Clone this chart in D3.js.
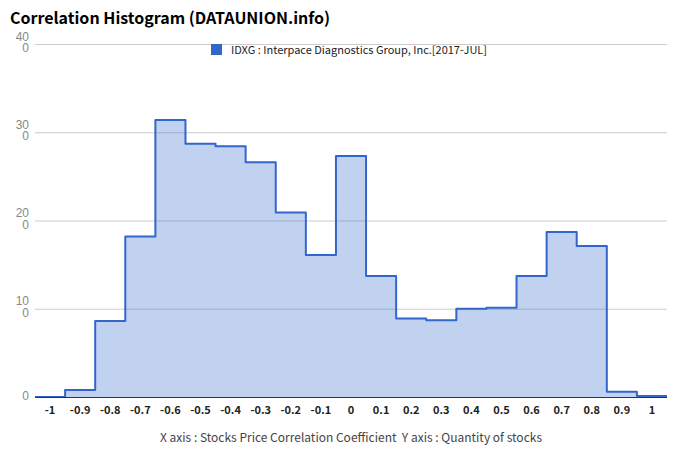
<!DOCTYPE html>
<html>
<head>
<meta charset="utf-8">
<script src="https://cdn.jsdelivr.net/npm/d3@7"></script>
<style>
  body { margin: 0; background: #fff; }
  text { font-family: "Noto Sans CJK KR", "Noto Sans", sans-serif; }
  .ylab {
    font-family: "Liberation Sans", sans-serif;
    font-size: 12px;
    line-height: 11.5px;
    color: #888;
    text-align: right;
    word-break: break-all;
    width: 16px;
  }
</style>
</head>
<body>
<div id="chart"></div>
<script>
// bin centres and stock counts
var bins = [-1, -0.9, -0.8, -0.7, -0.6, -0.5, -0.4, -0.3, -0.2, -0.1, 0,
            0.1, 0.2, 0.3, 0.4, 0.5, 0.6, 0.7, 0.8, 0.9, 1];
var counts = [0, 8, 86, 182, 314, 287, 284, 266, 209, 161, 273,
              137, 89, 87, 100, 101, 137, 187, 171, 6, 1];
var yTicks = [0, 100, 200, 300, 400];
var binWidth = 0.1;

var W = 680, H = 462;
var margin = {top: 44, right: 13, bottom: 65, left: 35};

var x = d3.scaleLinear().domain([-1.05, 1.05]).range([margin.left, W - margin.right]);
var y = d3.scaleLinear().domain([0, 400]).range([H - margin.bottom, margin.top]);

var svg = d3.select("#chart").append("svg")
  .attr("width", W)
  .attr("height", H);

// title
svg.append("text")
  .attr("x", 10).attr("y", 24)
  .attr("font-size", 16).attr("font-weight", "bold")
  .attr("fill", "#000")
  .text("Correlation Histogram (DATAUNION.info)");

// grid
svg.append("g").selectAll("line")
  .data(yTicks.filter(function(d){ return d > 0; }))
  .enter().append("line")
  .attr("x1", x.range()[0]).attr("x2", x.range()[1])
  .attr("y1", function(d){ return y(d) + 0.5; })
  .attr("y2", function(d){ return y(d) + 0.5; })
  .attr("stroke", "#ccc");

// y labels: the label box is too narrow, so "400" wraps to "40" / "0" like the original
svg.append("g").selectAll("foreignObject")
  .data(yTicks)
  .enter().append("foreignObject")
  .attr("x", 13)
  .attr("y", function(d){ return d > 0 ? y(d) - 12.4 : y(d) - 5.9; })
  .attr("width", 16)
  .attr("height", 26)
  .append("xhtml:div")
  .attr("class", "ylab")
  .text(function(d){ return d; });

// step points from bin edges
var pts = bins.map(function(b, i){ return [b - binWidth / 2, counts[i]]; });
pts.push([bins[bins.length - 1] + binWidth / 2, counts[counts.length - 1]]);

var area = d3.area()
  .x(function(d){ return x(d[0]); })
  .y0(y(0))
  .y1(function(d){ return y(d[1]); })
  .curve(d3.curveStepAfter);

var line = d3.line()
  .x(function(d){ return x(d[0]); })
  .y(function(d){ return y(d[1]); })
  .curve(d3.curveStepAfter);

svg.append("path")
  .datum(pts)
  .attr("d", area)
  .attr("fill", "#3366cc")
  .attr("fill-opacity", 0.3);

svg.append("path")
  .datum(pts)
  .attr("d", line)
  .attr("fill", "none")
  .attr("stroke", "#3366cc")
  .attr("stroke-width", 2)
  .attr("stroke-linejoin", "round");

// x axis baseline
svg.append("line")
  .attr("x1", x.range()[0]).attr("x2", x.range()[1])
  .attr("y1", y(0) + 0.5).attr("y2", y(0) + 0.5)
  .attr("stroke", "#333");

svg.append("g").selectAll("text")
  .data(bins)
  .enter().append("text")
  .attr("x", function(d){ return x(d); })
  .attr("y", y(0) + 17)
  .attr("text-anchor", "middle")
  .attr("font-size", 11)
  .attr("font-weight", "bold")
  .attr("fill", "#222")
  .text(function(d){ return String(+d.toFixed(1)); });

// legend
svg.append("rect")
  .attr("x", 211).attr("y", 44).attr("width", 11).attr("height", 11)
  .attr("fill", "#3366cc");
svg.append("text")
  .attr("x", 231).attr("y", 54)
  .attr("font-size", 11).attr("fill", "#222")
  .text("IDXG : Interpace Diagnostics Group, Inc.[2017-JUL]");

// axis caption
svg.append("text")
  .attr("x", 351).attr("y", 442)
  .attr("text-anchor", "middle")
  .attr("font-size", 12).attr("fill", "#444")
  .style("white-space", "pre")
  .text("X axis : Stocks Price Correlation Coefficient  Y axis : Quantity of stocks");
</script>
</body>
</html>
